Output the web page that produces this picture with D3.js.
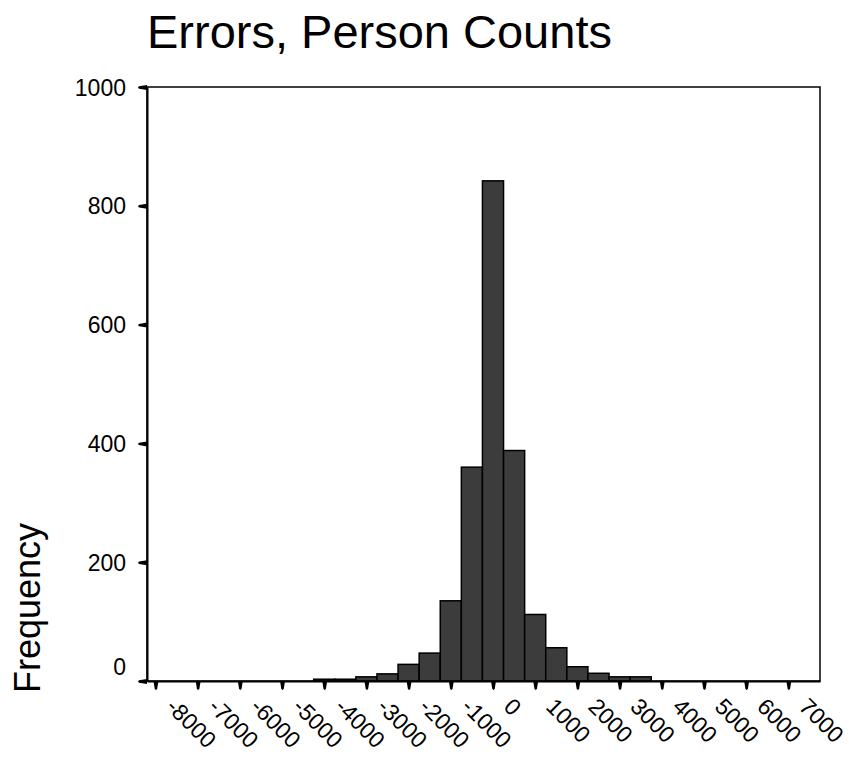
<!DOCTYPE html>
<html>
<head>
<meta charset="utf-8">
<script src="https://cdn.jsdelivr.net/npm/d3@7"></script>
<style>
  html, body { margin: 0; padding: 0; background: #ffffff; }
  svg { display: block; }
  text { font-family: "Liberation Sans", Arial, sans-serif; fill: #000; }
</style>
</head>
<body>
<div id="chart"></div>
<script>
// ---- data ----
const title = "Errors, Person Counts";
const yTitle = "Frequency";
const binWidth = 500;
const binCenters = [-4000, -3500, -3000, -2500, -2000, -1500, -1000, -500, 0, 500, 1000, 1500, 2000, 2500, 3000, 3500];
const frequencies = [3, 3, 7, 12, 28, 47, 135, 360, 842, 388, 112, 56, 24, 13, 7, 7];
const xTickValues = [-8000, -7000, -6000, -5000, -4000, -3000, -2000, -1000, 0, 1000, 2000, 3000, 4000, 5000, 6000, 7000];
const xTickLabels = ["-8000", "-7000", "-6000", "-5000", "-4000", "-3000", "-2000", "-1000", "0", "1000", "2000", "3000", "4000", "5000", "6000", "7000"];
const yTickValues = [0, 200, 400, 600, 800, 1000];
const yTickLabels = ["0", "200", "400", "600", "800", "1000"];

// ---- layout ----
const W = 849, H = 761;
const plot = { left: 147, right: 820, top: 87, bottom: 681 };

const svg = d3.select("#chart").append("svg")
  .attr("width", W).attr("height", H);

const x = d3.scaleLinear().domain([-8200, 7750]).range([plot.left, plot.right]);
const y = d3.scaleLinear().domain([0, 1000]).range([plot.bottom, plot.top]);

// title
svg.append("text")
  .attr("x", 147).attr("y", 48)
  .attr("font-size", 47)
  .text(title);

// y axis title
svg.append("text")
  .attr("transform", "translate(40,608) rotate(-90)")
  .attr("text-anchor", "middle")
  .attr("font-size", 36)
  .text(yTitle);

// plot frame
svg.append("rect")
  .attr("x", plot.left).attr("y", plot.top)
  .attr("width", plot.right - plot.left).attr("height", plot.bottom - plot.top)
  .attr("fill", "none").attr("stroke", "#000").attr("stroke-width", 1.5);

// bars
const bins = binCenters.map((c, i) => ({ c, v: frequencies[i] }));
svg.append("g").selectAll("rect").data(bins).join("rect")
  .attr("x", d => x(d.c - binWidth / 2))
  .attr("width", d => x(d.c + binWidth / 2) - x(d.c - binWidth / 2))
  .attr("y", d => y(d.v))
  .attr("height", d => y(0) - y(d.v))
  .attr("fill", "#3c3c3c")
  .attr("stroke", "#000")
  .attr("stroke-width", 1.5);

// y axis
const yAxis = svg.append("g")
  .attr("transform", `translate(${plot.left},0)`)
  .call(d3.axisLeft(y).tickValues(yTickValues).tickSize(0).tickFormat((d, i) => yTickLabels[i]));
yAxis.select(".domain").attr("stroke", "#000").attr("stroke-width", 2);
yAxis.selectAll(".tick text")
  .attr("font-family", "'Liberation Sans', Arial, sans-serif")
  .attr("font-size", 23)
  .attr("fill", "#000")
  .attr("x", -21)
  .attr("dy", (d) => d === 0 ? "-0.3em" : "0.35em");
yAxis.selectAll(".tick").append("path")
  .attr("d", "M0,-2.5L0,2.5L-8,1.2L-9,0L-8,-1.2Z")
  .attr("fill", "#000");

// x axis
const xAxis = svg.append("g")
  .attr("transform", `translate(0,${plot.bottom})`)
  .call(d3.axisBottom(x).tickValues(xTickValues).tickSize(0).tickFormat((d, i) => xTickLabels[i]));
xAxis.select(".domain").attr("stroke", "#000").attr("stroke-width", 2);
xAxis.selectAll(".tick").append("path")
  .attr("d", "M-2.5,0L2.5,0L1.2,8L0,9L-1.2,8Z")
  .attr("fill", "#000");
xAxis.selectAll(".tick text")
  .attr("font-family", "'Liberation Sans', Arial, sans-serif")
  .attr("font-size", 23)
  .attr("fill", "#000")
  .attr("text-anchor", "start")
  .attr("x", 0).attr("y", 0).attr("dy", 0)
  .attr("transform", "translate(9,27) rotate(45)");
</script>
</body>
</html>
